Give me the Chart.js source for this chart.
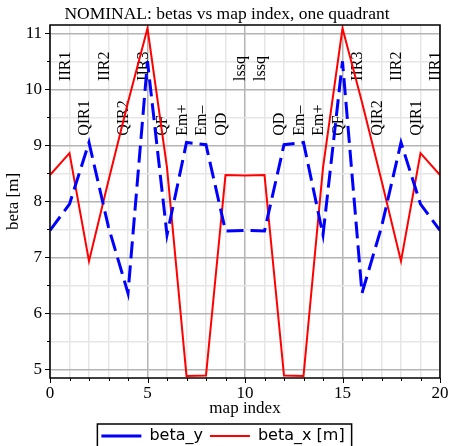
<!DOCTYPE html>
<html>
<head>
<meta charset="utf-8">
<title>NOMINAL: betas vs map index</title>
<script src="https://cdn.jsdelivr.net/npm/chart.js@4.4.1/dist/chart.umd.min.js"></script>
<style>
  html, body { margin: 0; padding: 0; background: #fff; }
  #wrap { width: 449px; height: 446px; overflow: hidden; }
</style>
</head>
<body>
<div id="wrap"><canvas id="betaChart" width="449" height="446"></canvas></div>
<script>
// ==========================================
// 1. DATOS
// ==========================================
const mapIndex = [0, 1, 2, 3, 4, 5, 6, 7, 8, 9, 10, 11, 12, 13, 14, 15, 16, 17, 18, 19, 20];
const betaY = [7.48, 7.95, 9.05, 7.54, 6.36, 10.50, 7.40, 9.05, 9.01, 7.47, 7.48, 7.47, 9.01, 9.05, 7.40, 10.50, 6.36, 7.54, 9.05, 7.95, 7.48];
const betaX = [8.47, 8.86, 6.93, 8.37, 9.77, 11.09, 8.60, 4.88, 4.89, 8.47, 8.46, 8.47, 4.89, 4.88, 8.60, 11.09, 9.77, 8.37, 6.93, 8.86, 8.47];

// nombres de elementos (fila alta y fila baja)
const topNames = ['IIR1', 'IIR2', 'IIR3', 'lssq', 'lssq', 'IIR3', 'IIR2', 'IIR1'];
const topNameIdx = [1, 3, 5, 10, 11, 16, 18, 20];
const lowNames = ['QIR1', 'QIR2', 'QF', 'Em+', 'Em\u2013', 'QD', 'QD', 'Em\u2013', 'Em+', 'QF', 'QIR2', 'QIR1'];
const lowNameIdx = [2, 4, 6, 7, 8, 9, 12, 13, 14, 15, 17, 19];
const topNameAt = 10.15;
const lowNameAt = 9.17;

const xLabelEvery = 5;
const yMin = 4.845, yMax = 11.148;

const SERIF = '"Liberation Serif", "Times New Roman", serif';
const SANS = '"DejaVu Sans", sans-serif';
const MAJOR = '#b4b4b4';
const MINOR = '#e6e6e6';
const legendShift = 3;
const titleShift = 7;

const toPoints = ys => mapIndex.map((x, i) => ({ x: x, y: ys[i] }));

// ==========================================
// 2. PLUGINS
// ==========================================
const elementNames = {
  id: 'elementNames',
  beforeDatasetsDraw(chart) {
    const { ctx, scales: { x, y } } = chart;
    ctx.save();
    ctx.font = '16px ' + SERIF;
    ctx.fillStyle = '#000';
    ctx.textAlign = 'left';
    ctx.textBaseline = 'alphabetic';
    const put = (names, idx, at) => names.forEach((t, i) => {
      ctx.save();
      ctx.translate(x.getPixelForValue(idx[i]), y.getPixelForValue(at));
      ctx.rotate(-Math.PI / 2);
      ctx.fillText(t, 0, 0);
      ctx.restore();
    });
    put(topNames, topNameIdx, topNameAt);
    put(lowNames, lowNameIdx, lowNameAt);
    ctx.restore();
  }
};

const frameAndTicks = {
  id: 'frameAndTicks',
  afterLayout(chart) {
    // leyenda y titulo un poco a la derecha, como en el original
    const lg = chart.legend;
    if (lg) { lg.left += legendShift; lg.right += legendShift; }
    const tt = chart.titleBlock;
    if (tt) { tt.left += titleShift; tt.right += titleShift; }
  },
  afterDraw(chart) {
    const { ctx, chartArea: a, scales: { x, y } } = chart;
    ctx.save();
    ctx.strokeStyle = '#000';
    ctx.lineWidth = 1.5;
    ctx.strokeRect(a.left, a.top, a.right - a.left, a.bottom - a.top);

    ctx.lineWidth = 1;
    ctx.beginPath();
    x.ticks.forEach(t => {
      const px = Math.round(x.getPixelForValue(t.value)) + 0.5;
      const len = t.value % xLabelEvery === 0 ? 5 : 3;
      ctx.moveTo(px, a.bottom);
      ctx.lineTo(px, a.bottom + len);
    });
    y.ticks.forEach(t => {
      const py = Math.round(y.getPixelForValue(t.value)) + 0.5;
      const len = Number.isInteger(t.value) ? 5 : 3;
      ctx.moveTo(a.left, py);
      ctx.lineTo(a.left - len, py);
    });
    ctx.stroke();

    // marco de la leyenda
    const hb = chart.legend && chart.legend.legendHitBoxes;
    if (hb && hb.length) {
      const first = hb[0], last = hb[hb.length - 1];
      const l = first.left - 4, r = last.left + last.width + 7;
      ctx.lineWidth = 1.5;
      ctx.strokeRect(l, first.top - 4, r - l, 40);
    }
    ctx.restore();
  }
};

// ==========================================
// 3. GRAFICO
// ==========================================
Chart.defaults.color = '#000';
Chart.defaults.font.family = SERIF;

const gridOf = isMajor => ({
  color: c => (c.tick && isMajor(c.tick.value)) ? MAJOR : MINOR,
  lineWidth: 1.5,
  drawTicks: true,
  tickLength: 5,
  tickColor: 'rgba(0,0,0,0)'
});

new Chart(document.getElementById('betaChart').getContext('2d'), {
  type: 'line',
  data: {
    datasets: [
      {
        label: 'beta_y',
        data: toPoints(betaY),
        borderColor: '#0000ff',
        backgroundColor: '#0000ff',
        borderWidth: 3,
        borderDash: [17, 7],
        pointRadius: 0,
        tension: 0,
        fill: false
      },
      {
        label: 'beta_x [m]',
        data: toPoints(betaX),
        borderColor: '#ff0000',
        backgroundColor: '#ff0000',
        borderWidth: 2,
        pointRadius: 0,
        tension: 0,
        fill: false
      }
    ]
  },
  options: {
    responsive: false,
    animation: false,
    devicePixelRatio: 1,
    layout: { padding: { left: 0, right: 9, top: 0, bottom: -8 } },
    plugins: {
      title: {
        display: true,
        text: 'NOMINAL: betas vs map index, one quadrant',
        font: { family: SERIF, size: 17.5, weight: 'normal' },
        color: '#000',
        padding: { top: 4, bottom: 0 }
      },
      legend: {
        position: 'bottom',
        labels: {
          font: { family: SANS, size: 16 },
          color: '#000',
          usePointStyle: true,
          pointStyle: 'line',
          pointStyleWidth: 40,
          padding: 7
        }
      },
      tooltip: { enabled: false }
    },
    scales: {
      x: {
        type: 'linear',
        min: 0,
        max: 20,
        afterFit: s => { s.height = 43; },
        border: { display: false },
        grid: gridOf(v => v % xLabelEvery === 0),
        ticks: {
          stepSize: 1,
          autoSkip: false,
          maxRotation: 0,
          padding: 0,
          font: { family: SERIF, size: 17 },
          callback: v => (v % xLabelEvery === 0 ? v : '')
        },
        title: {
          display: true,
          text: 'map index',
          font: { family: SERIF, size: 17 },
          padding: { top: 0, bottom: 2.5 }
        }
      },
      y: {
        min: yMin,
        max: yMax,
        afterFit: s => { s.width = 50; },
        border: { display: false },
        grid: gridOf(v => Number.isInteger(v)),
        ticks: {
          stepSize: 0.5,
          includeBounds: false,
          padding: 3,
          font: { family: SERIF, size: 17 },
          callback: v => (Number.isInteger(v) ? v : '')
        },
        title: {
          display: true,
          text: 'beta [m]',
          font: { family: SERIF, size: 17 },
          padding: { top: 3, bottom: 0 }
        }
      }
    }
  },
  plugins: [elementNames, frameAndTicks]
});
</script>
</body>
</html>
